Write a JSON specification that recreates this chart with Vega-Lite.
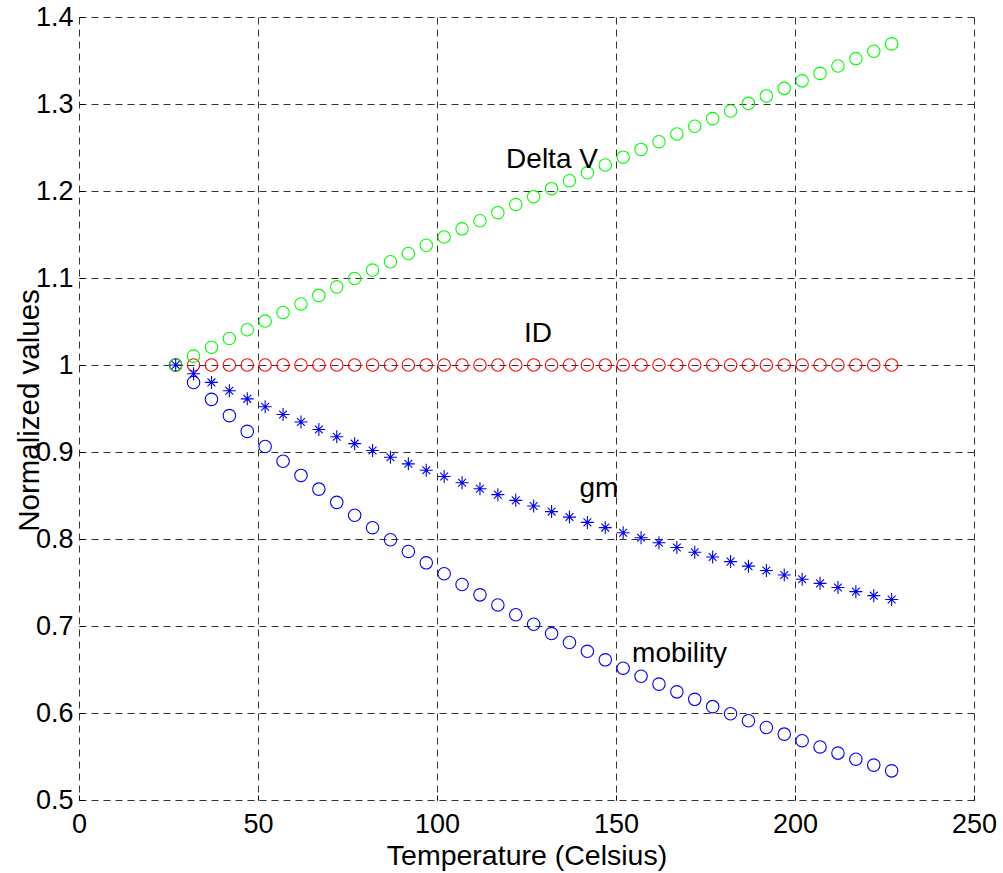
{
  "$schema": "https://vega.github.io/schema/vega-lite/v6.json",
  "width": 895,
  "height": 783,
  "autosize": "none",
  "padding": {"left": 79, "top": 17, "right": 29, "bottom": 73},
  "background": "white",
  "config": {"view": {"stroke": null}, "font": "Liberation Sans"},
  "datasets": {
    "pts": [
      {"T":27,"s":"mobility","v":1.0},{"T":32,"s":"mobility","v":0.9799},{"T":37,"s":"mobility","v":0.9605},{"T":42,"s":"mobility","v":0.9418},{"T":47,"s":"mobility","v":0.9237},{"T":52,"s":"mobility","v":0.9063},{"T":57,"s":"mobility","v":0.8894},{"T":62,"s":"mobility","v":0.8731},{"T":67,"s":"mobility","v":0.8573},{"T":72,"s":"mobility","v":0.8421},{"T":77,"s":"mobility","v":0.8273},{"T":82,"s":"mobility","v":0.813},{"T":87,"s":"mobility","v":0.7991},{"T":92,"s":"mobility","v":0.7857},{"T":97,"s":"mobility","v":0.7726},{"T":102,"s":"mobility","v":0.76},{"T":107,"s":"mobility","v":0.7477},{"T":112,"s":"mobility","v":0.7358},{"T":117,"s":"mobility","v":0.7242},{"T":122,"s":"mobility","v":0.7129},{"T":127,"s":"mobility","v":0.702},{"T":132,"s":"mobility","v":0.6913},{"T":137,"s":"mobility","v":0.681},{"T":142,"s":"mobility","v":0.6709},{"T":147,"s":"mobility","v":0.6611},{"T":152,"s":"mobility","v":0.6515},{"T":157,"s":"mobility","v":0.6422},{"T":162,"s":"mobility","v":0.6332},{"T":167,"s":"mobility","v":0.6243},{"T":172,"s":"mobility","v":0.6157},{"T":177,"s":"mobility","v":0.6073},{"T":182,"s":"mobility","v":0.5991},{"T":187,"s":"mobility","v":0.5911},{"T":192,"s":"mobility","v":0.5833},{"T":197,"s":"mobility","v":0.5757},{"T":202,"s":"mobility","v":0.5682},{"T":207,"s":"mobility","v":0.561},{"T":212,"s":"mobility","v":0.5539},{"T":217,"s":"mobility","v":0.5469},{"T":222,"s":"mobility","v":0.5401},{"T":227,"s":"mobility","v":0.5335},
      {"T":27,"s":"ID","v":1.0},{"T":32,"s":"ID","v":1.0},{"T":37,"s":"ID","v":1.0},{"T":42,"s":"ID","v":1.0},{"T":47,"s":"ID","v":1.0},{"T":52,"s":"ID","v":1.0},{"T":57,"s":"ID","v":1.0},{"T":62,"s":"ID","v":1.0},{"T":67,"s":"ID","v":1.0},{"T":72,"s":"ID","v":1.0},{"T":77,"s":"ID","v":1.0},{"T":82,"s":"ID","v":1.0},{"T":87,"s":"ID","v":1.0},{"T":92,"s":"ID","v":1.0},{"T":97,"s":"ID","v":1.0},{"T":102,"s":"ID","v":1.0},{"T":107,"s":"ID","v":1.0},{"T":112,"s":"ID","v":1.0},{"T":117,"s":"ID","v":1.0},{"T":122,"s":"ID","v":1.0},{"T":127,"s":"ID","v":1.0},{"T":132,"s":"ID","v":1.0},{"T":137,"s":"ID","v":1.0},{"T":142,"s":"ID","v":1.0},{"T":147,"s":"ID","v":1.0},{"T":152,"s":"ID","v":1.0},{"T":157,"s":"ID","v":1.0},{"T":162,"s":"ID","v":1.0},{"T":167,"s":"ID","v":1.0},{"T":172,"s":"ID","v":1.0},{"T":177,"s":"ID","v":1.0},{"T":182,"s":"ID","v":1.0},{"T":187,"s":"ID","v":1.0},{"T":192,"s":"ID","v":1.0},{"T":197,"s":"ID","v":1.0},{"T":202,"s":"ID","v":1.0},{"T":207,"s":"ID","v":1.0},{"T":212,"s":"ID","v":1.0},{"T":217,"s":"ID","v":1.0},{"T":222,"s":"ID","v":1.0},{"T":227,"s":"ID","v":1.0},
      {"T":27,"s":"DeltaV","v":1.0},{"T":32,"s":"DeltaV","v":1.0102},{"T":37,"s":"DeltaV","v":1.0204},{"T":42,"s":"DeltaV","v":1.0305},{"T":47,"s":"DeltaV","v":1.0405},{"T":52,"s":"DeltaV","v":1.0505},{"T":57,"s":"DeltaV","v":1.0604},{"T":62,"s":"DeltaV","v":1.0702},{"T":67,"s":"DeltaV","v":1.08},{"T":72,"s":"DeltaV","v":1.0898},{"T":77,"s":"DeltaV","v":1.0994},{"T":82,"s":"DeltaV","v":1.1091},{"T":87,"s":"DeltaV","v":1.1187},{"T":92,"s":"DeltaV","v":1.1282},{"T":97,"s":"DeltaV","v":1.1377},{"T":102,"s":"DeltaV","v":1.1471},{"T":107,"s":"DeltaV","v":1.1565},{"T":112,"s":"DeltaV","v":1.1658},{"T":117,"s":"DeltaV","v":1.1751},{"T":122,"s":"DeltaV","v":1.1844},{"T":127,"s":"DeltaV","v":1.1935},{"T":132,"s":"DeltaV","v":1.2027},{"T":137,"s":"DeltaV","v":1.2118},{"T":142,"s":"DeltaV","v":1.2209},{"T":147,"s":"DeltaV","v":1.2299},{"T":152,"s":"DeltaV","v":1.2389},{"T":157,"s":"DeltaV","v":1.2478},{"T":162,"s":"DeltaV","v":1.2567},{"T":167,"s":"DeltaV","v":1.2656},{"T":172,"s":"DeltaV","v":1.2744},{"T":177,"s":"DeltaV","v":1.2832},{"T":182,"s":"DeltaV","v":1.292},{"T":187,"s":"DeltaV","v":1.3007},{"T":192,"s":"DeltaV","v":1.3093},{"T":197,"s":"DeltaV","v":1.318},{"T":202,"s":"DeltaV","v":1.3266},{"T":207,"s":"DeltaV","v":1.3352},{"T":212,"s":"DeltaV","v":1.3437},{"T":217,"s":"DeltaV","v":1.3522},{"T":222,"s":"DeltaV","v":1.3607},{"T":227,"s":"DeltaV","v":1.3691},
      {"T":27,"s":"gm","v":1.0},{"T":32,"s":"gm","v":0.9899},{"T":37,"s":"gm","v":0.98},{"T":42,"s":"gm","v":0.9704},{"T":47,"s":"gm","v":0.9611},{"T":52,"s":"gm","v":0.952},{"T":57,"s":"gm","v":0.9431},{"T":62,"s":"gm","v":0.9344},{"T":67,"s":"gm","v":0.9259},{"T":72,"s":"gm","v":0.9176},{"T":77,"s":"gm","v":0.9096},{"T":82,"s":"gm","v":0.9017},{"T":87,"s":"gm","v":0.8939},{"T":92,"s":"gm","v":0.8864},{"T":97,"s":"gm","v":0.879},{"T":102,"s":"gm","v":0.8718},{"T":107,"s":"gm","v":0.8647},{"T":112,"s":"gm","v":0.8578},{"T":117,"s":"gm","v":0.851},{"T":122,"s":"gm","v":0.8444},{"T":127,"s":"gm","v":0.8379},{"T":132,"s":"gm","v":0.8315},{"T":137,"s":"gm","v":0.8252},{"T":142,"s":"gm","v":0.8191},{"T":147,"s":"gm","v":0.8131},{"T":152,"s":"gm","v":0.8072},{"T":157,"s":"gm","v":0.8014},{"T":162,"s":"gm","v":0.7957},{"T":167,"s":"gm","v":0.7902},{"T":172,"s":"gm","v":0.7847},{"T":177,"s":"gm","v":0.7793},{"T":182,"s":"gm","v":0.774},{"T":187,"s":"gm","v":0.7688},{"T":192,"s":"gm","v":0.7638},{"T":197,"s":"gm","v":0.7587},{"T":202,"s":"gm","v":0.7538},{"T":207,"s":"gm","v":0.749},{"T":212,"s":"gm","v":0.7442},{"T":217,"s":"gm","v":0.7395},{"T":222,"s":"gm","v":0.7349},{"T":227,"s":"gm","v":0.7304}
    ],
    "labels": [
      {"label":"Delta V","T":119.3,"v":1.227},
      {"label":"ID","T":124.3,"v":1.026},
      {"label":"gm","T":139.8,"v":0.848},
      {"label":"mobility","T":154.5,"v":0.659}
    ]
  },
  "encoding": {
    "x": {
      "field": "T", "type": "quantitative",
      "scale": {"domain": [0, 250], "nice": false, "zero": false},
      "axis": {
        "values": [0, 50, 100, 150, 200, 250],
        "grid": true, "gridDash": [7, 5], "gridColor": "#333333", "gridWidth": 1, "gridOpacity": 1,
        "domain": false,
        "ticks": true, "tickSize": -5, "tickColor": "#000000", "tickWidth": 1,
        "labelFontSize": 27, "labelColor": "#000000", "labelPadding": 16, "labelBaseline": "top", "labelFlush": false,
        "title": "Temperature (Celsius)", "titleFontSize": 28.5, "titleFontWeight": "normal", "titleColor": "#000000",
        "titleBaseline": "alphabetic", "titleY": 64, "titleX": 447.5, "titleAlign": "center", "titleAnchor": "middle"
      }
    },
    "y": {
      "field": "v", "type": "quantitative",
      "scale": {"domain": [0.5, 1.4], "nice": false, "zero": false},
      "axis": {
        "values": [0.5, 0.6, 0.7, 0.8, 0.9, 1.0, 1.1, 1.2, 1.3, 1.4],
        "format": "~g",
        "grid": true, "gridDash": [7, 5], "gridColor": "#333333", "gridWidth": 1, "gridOpacity": 1,
        "domain": false,
        "ticks": true, "tickSize": -5, "tickColor": "#000000", "tickWidth": 1,
        "labelFontSize": 27, "labelColor": "#000000", "labelPadding": 11, "labelFlush": false,
        "title": "Normalized values", "titleFontSize": 29.5, "titleFontWeight": "normal", "titleColor": "#000000",
        "titleAngle": -90, "titleBaseline": "middle", "titleX": -50, "titleY": 393, "titleAlign": "center", "titleAnchor": "middle"
      }
    }
  },
  "layer": [
    {
      "data": {"name": "pts"},
      "transform": [{"filter": "datum.s !== 'gm'"}],
      "mark": {"type": "point", "shape": "circle", "filled": false, "size": 155, "strokeWidth": 1.1, "opacity": 1},
      "encoding": {
        "color": {"field": "s", "type": "nominal", "scale": {"domain": ["mobility", "ID", "DeltaV"], "range": ["#0000ff", "#ff0000", "#00ff00"]}, "legend": null}
      }
    },
    {
      "data": {"name": "pts"},
      "transform": [{"filter": "datum.s === 'gm'"}],
      "mark": {"type": "point", "shape": "M-1,0L1,0M0,-1L0,1M-0.6,-0.6L0.6,0.6M-0.6,0.6L0.6,-0.6", "filled": false, "size": 169, "color": "#0000ff", "strokeWidth": 1.1, "opacity": 1}
    },
    {
      "data": {"name": "labels"},
      "mark": {"type": "text", "align": "left", "baseline": "alphabetic", "fontSize": 28, "color": "#000000"},
      "encoding": {"text": {"field": "label", "type": "nominal"}}
    }
  ]
}
